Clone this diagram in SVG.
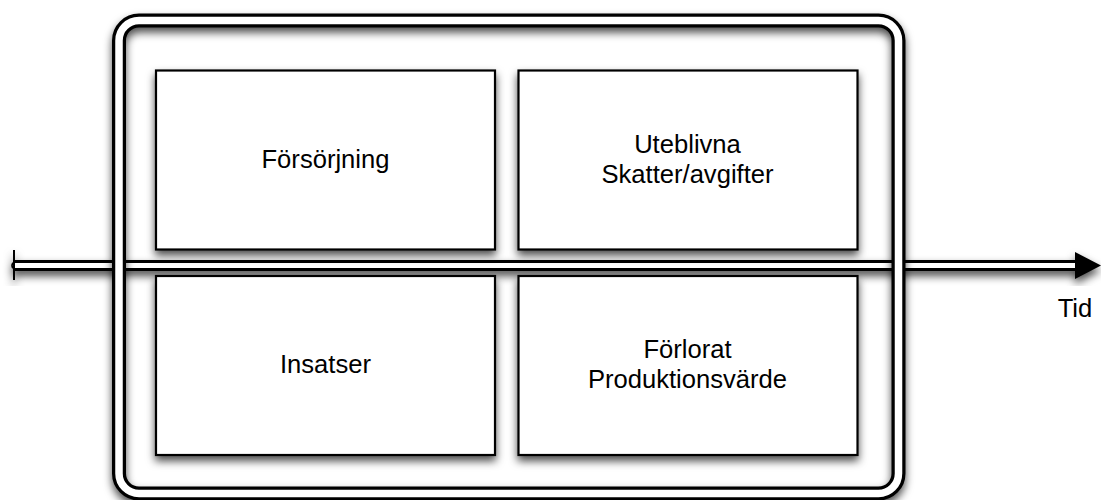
<svg xmlns="http://www.w3.org/2000/svg" width="1101" height="500" viewBox="0 0 1101 500">
<style>
.box{fill:#fff;stroke:#000;stroke-width:2.2}
.lbl{font-family:"Liberation Sans",Arial,Helvetica,sans-serif;font-size:25.6px;fill:#000;text-anchor:middle}
</style>
<defs>
<filter id="sh" x="-10%" y="-10%" width="120%" height="130%">
<feDropShadow dx="0" dy="5" stdDeviation="4" flood-color="#000" flood-opacity="0.7"/>
</filter>
</defs>
<rect width="1101" height="500" fill="#fff"/>
<g id="connectors">
<g id="time-axis" filter="url(#sh)">
<line x1="15" y1="265.5" x2="1076" y2="265.5" stroke="#000" stroke-width="11"/>
<line x1="15" y1="265.5" x2="1076" y2="265.5" stroke="#fff" stroke-width="5"/>
<path d="M15,262.5 A3,3 0 0 0 15,268.5" fill="none" stroke="#000" stroke-width="1.6"/>
<line x1="14" y1="250" x2="14" y2="280" stroke="#000" stroke-width="2"/>
<polygon points="1075,252 1101,265.5 1075,279" fill="#000"/>
</g>
<text class="lbl" x="1075" y="317">Tid</text>
</g>
<g id="frame" filter="url(#sh)">
<rect x="119" y="20.5" width="779.5" height="473" rx="20" ry="20" fill="none" stroke="#000" stroke-width="14"/>
<rect x="119" y="20.5" width="779.5" height="473" rx="20" ry="20" fill="none" stroke="#fff" stroke-width="7.5"/>
</g>
<g id="forsorjning">
<rect class="box" x="156" y="70.5" width="339" height="179" filter="url(#sh)"/>
<text class="lbl" x="325.5" y="168.3">Försörjning</text>
</g>
<g id="uteblivna">
<rect class="box" x="518.5" y="70.5" width="339" height="179" filter="url(#sh)"/>
<text class="lbl" x="687.5" y="152.7">Uteblivna</text>
<text class="lbl" x="687.5" y="182.5">Skatter/avgifter</text>
</g>
<g id="insatser">
<rect class="box" x="156" y="276" width="339" height="179" filter="url(#sh)"/>
<text class="lbl" x="325.5" y="373.3">Insatser</text>
</g>
<g id="forlorat">
<rect class="box" x="518.5" y="276" width="339" height="179" filter="url(#sh)"/>
<text class="lbl" x="687.5" y="358.3">Förlorat</text>
<text class="lbl" x="687.5" y="388.3">Produktionsvärde</text>
</g>
</svg>
